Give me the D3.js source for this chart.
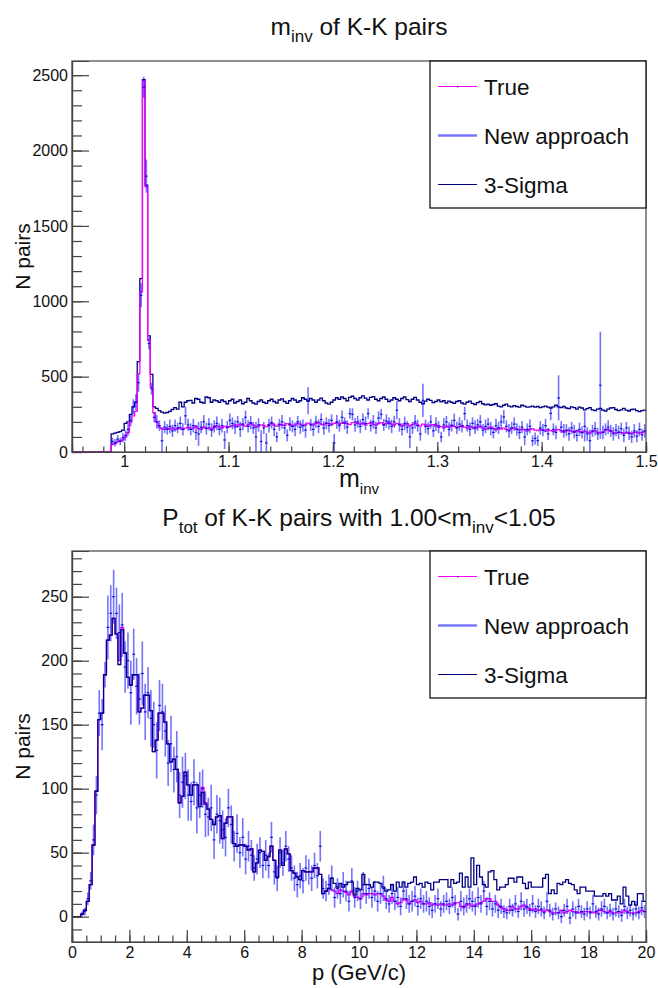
<!DOCTYPE html>
<html>
<head>
<meta charset="utf-8">
<script src="https://d3js.org/d3.v7.min.js"></script>
<style>
  body { margin: 0; background: white; }
  text { font-family: "Liberation Sans", Arial, Helvetica, sans-serif; fill: #111; }
</style>
</head>
<body>
<div id="container"></div>
<script>
// ---------- top panel: m_inv, 220 bins of 0.0025 from 0.95 ----------
let topBinStart = 0.95;
let topBinWidth = 0.0025;

let topTrue = [
  0,0,0,0,0,0,0,0,0,0,0,0,0,0,0,
  50,55,70,75,80,100,130,200,240,270,520,1060,2460,1760,740,430,260,200,165,155,
  150,158,152,160,148,155,162,150,158,165,150,160,170,155,150,165,158,160,150,162,175,165,160,170,162,
  168,175,180,170,185,178,172,180,190,178,165,172,180,175,168,182,190,178,172,185,
  180,176,188,180,172,178,190,185,175,180,192,185,178,190,196,185,180,192,188,182,
  190,195,185,192,200,188,182,195,198,190,185,192,180,188,195,185,178,190,195,182,
  188,200,185,178,190,185,172,180,188,175,182,190,178,172,185,180,170,178,182,172,
  175,168,160,172,165,178,170,162,168,175,165,158,170,162,155,165,172,160,152,158,
  165,155,148,160,152,158,150,145,155,160,150,145,152,148,140,150,155,145,142,150,
  145,138,148,142,135,145,150,140,132,140,145,138,130,142,135,128,138,132,125,135,
  140,130,125,132,145,150,138,130,125,132,128,122,130,125,120,128,132,125,130,135
];

let topSigma = [
  0,0,0,0,0,0,0,0,0,0,0,0,0,0,0,
  120,125,130,135,145,190,200,250,300,330,600,1150,2470,1770,770,515,300,290,275,265,
  258,262,270,282,295,285,330,300,330,340,342,325,355,350,330,325,365,360,330,345,340,330,345,335,320,
  340,350,325,335,345,320,330,355,340,325,318,335,345,330,322,340,350,335,325,345,
  352,335,322,340,355,345,330,340,360,350,338,355,345,330,345,358,340,325,318,330,
  345,360,350,365,355,340,362,370,355,345,360,372,358,345,362,368,350,340,355,365,
  350,335,345,360,350,340,355,365,348,335,350,362,345,330,320,338,350,342,328,335,
  345,332,340,325,338,330,322,335,340,325,318,330,338,322,315,328,335,320,312,318,
  310,315,320,305,300,310,318,305,300,308,302,298,310,305,298,300,305,298,302,295,
  300,305,298,292,300,310,300,295,302,292,288,300,295,285,298,292,280,288,295,280,
  275,285,290,278,272,285,292,295,282,275,280,290,278,272,282,285,275,268,275,278
];

// new approach: bin content and error, null where nothing is drawn
let topNew = [
  null,null,null,null,null,null,null,null,null,null,null,null,null,null,null,
  70,62,85,70,95,110,150,210,300,330,460,1040,2420,1830,720,420,230,200,175,75,
  165,150,170,140,175,160,190,150,240,180,150,175,130,120,165,200,155,185,145,170,190,150,175,80,165,
  210,190,165,200,150,185,230,170,195,160,100,180,70,160,60,175,195,150,100,180,
  200,160,110,185,170,150,200,165,175,145,340,180,150,200,170,215,160,190,175,210,
  60,200,175,230,190,165,255,250,180,200,170,215,190,255,175,200,160,225,250,180,
  205,190,170,200,277,180,150,190,165,100,160,200,175,120,343,170,155,200,140,185,
  165,100,180,200,150,175,210,160,185,170,255,175,150,190,165,180,200,145,170,185,
  155,130,175,160,200,233,170,140,160,185,150,130,165,100,150,170,75,90,75,160,
  145,175,120,256,150,130,359,165,140,145,120,160,135,110,150,130,170,120,75,140,
  155,120,443,130,150,165,140,120,145,130,155,110,160,125,100,140,105,150,115,140
];
let topNewErr = [
  0,0,0,0,0,0,0,0,0,0,0,0,0,0,0,
  25,25,28,25,30,35,40,40,50,55,60,80,70,110,40,40,35,45,35,90,
  40,35,45,40,40,35,45,40,60,40,40,45,50,80,40,45,40,40,45,40,45,40,45,60,40,
  45,40,45,40,50,40,45,40,45,40,100,45,75,40,65,45,40,45,35,40,
  45,40,40,45,40,45,40,45,40,50,90,40,45,40,45,40,45,40,45,40,
  60,45,40,45,40,45,35,40,45,40,45,40,45,35,40,45,40,45,35,40,
  45,40,45,40,60,45,40,45,40,75,40,45,40,45,110,45,40,45,40,45,
  40,35,45,40,45,40,45,40,45,40,45,40,45,40,45,40,45,40,45,40,
  45,40,45,40,45,45,40,45,40,45,40,45,40,55,40,45,35,40,35,45,
  40,45,40,45,40,45,150,40,45,40,45,40,45,40,45,40,100,45,75,40,
  45,40,355,45,40,45,40,45,40,45,40,45,40,45,40,45,40,45,40,45
];

// ---------- bottom panel: p, 200 bins of 0.1 GeV/c ----------
let botBinStart = 0;
let botBinWidth = 0.1;

let botTrue = [
  0,0,0,2,5,12,25,56,98,154,159,189,216,220,233,221,200,226,206,187,
  181,189,189,160,163,173,173,161,129,138,159,159,152,135,121,123,115,89,94,113,
  103,95,103,103,88,101,89,84,76,72,78,79,61,73,78,78,57,55,56,56,
  55,52,53,35,42,52,51,44,47,55,44,31,52,40,53,49,36,34,31,29,
  36,35,35,35,38,38,33,18,20,22,21,20,18,21,20,19,17,20,16,15,
  14,18,17,18,18,17,18,18,16,13,12,15,12,10,11,14,13,10,12,13,
  11,12,10,10,11,9,10,9,10,9,9,10,9,11,11,8,7,9,10,8,
  9,10,11,12,14,14,12,12,9,7,6,5,5,8,6,6,8,9,7,6,
  5,6,5,5,4,5,4,3,3,3,5,3,4,5,4,4,3,3,4,4,
  4,3,3,5,5,4,3,4,3,3,4,3,5,4,3,3,3,4,5,4
];

let botSigma = [
  0,0,0,2,5,12,25,56,98,154,159,189,216,220,233,221,197,224,206,187,
  181,189,189,160,163,173,173,161,129,138,159,159,152,135,121,123,115,89,94,113,
  103,95,103,103,86,97,88,84,76,72,78,79,61,73,78,78,57,55,56,56,
  55,52,53,35,42,52,51,44,47,55,44,31,52,40,53,49,36,34,31,29,
  36,35,35,35,38,38,33,18,20,22,30,26,23,26,23,25,27,27,17,22,
  21,33,25,25,23,27,27,26,23,20,21,25,20,27,23,27,23,26,27,31,
  25,26,23,27,26,21,27,27,29,29,29,23,29,26,27,34,23,31,23,46,
  25,40,31,25,23,35,36,29,21,23,23,25,30,30,27,31,31,26,22,27,
  23,23,23,23,30,33,18,21,18,26,25,27,29,26,25,21,18,23,23,20,
  20,20,16,16,16,18,16,18,13,13,16,10,23,16,9,12,9,18,18,12
];

let botNew = [
  null,null,null,2,4,14,28,60,95,159,150,189,226,237,250,237,222,228,195,200,
  175,205,180,170,190,160,175,155,150,130,165,160,145,120,135,115,125,95,105,110,
  95,90,105,85,95,100,80,78,85,60,80,75,68,62,85,72,55,65,50,62,
  45,55,48,38,45,50,40,48,40,62,35,30,50,42,55,45,38,30,25,32,
  28,38,35,30,40,32,55,22,20,25,30,15,22,18,25,20,12,28,15,20,
  14,25,18,22,15,20,12,18,22,14,10,18,12,15,8,20,14,10,12,16,
  8,14,10,12,8,5,10,14,6,10,12,8,15,10,2,12,8,10,14,12,
  8,15,10,20,8,12,6,10,5,8,4,3,8,5,10,4,12,6,8,5,
  10,4,8,6,3,12,5,2,6,3,0,5,8,-1,6,3,8,4,2,6,
  3,10,4,2,6,8,3,5,2,6,4,1,8,3,5,2,6,3,7,4
];
let botNewErr = [
  0,0,0,2,3,5,7,12,15,18,20,10,25,22,21,20,22,25,20,22,
  25,20,22,20,25,22,20,22,18,22,20,22,20,18,22,18,20,18,20,18,
  20,15,18,20,18,15,18,15,18,15,15,18,15,15,15,15,12,15,12,15,
  12,12,12,10,12,12,10,12,10,12,10,10,12,10,12,10,10,10,10,10,
  10,10,10,10,10,10,12,8,8,8,10,8,8,8,10,8,8,10,8,8,
  8,10,8,8,8,8,8,8,10,8,7,8,7,8,7,8,8,7,8,8,
  7,8,7,8,7,6,7,8,6,7,7,6,8,7,5,8,7,7,8,8,
  7,8,7,8,7,7,6,7,6,6,5,5,6,5,7,5,7,6,6,5,
  7,5,6,6,5,7,5,5,5,5,5,5,6,5,6,5,6,5,5,6,
  5,7,5,5,6,6,5,5,5,6,5,5,6,5,5,5,6,5,6,5
];

let legendNames = ["True", "New approach", "3-Sigma"];

let w = 658;
let h = 988;
let colTrue = "#ff00ff";
let colNew = "#0000ff";
let colSigma = "#000080";

let viz = d3.select("#container")
  .append("svg")
    .attr("width", w)
    .attr("height", h)
;

// one ROOT-like pad
function drawPanel(cfg){
  let g = viz.append("g");
  let xScale = d3.scaleLinear().domain(cfg.xDomain).range([cfg.left, cfg.right]);
  let yScale = d3.scaleLinear().domain(cfg.yDomain).range([cfg.bottom, cfg.top]);

  let clipId = "clip" + cfg.name;
  g.append("clipPath").attr("id", clipId)
    .append("rect")
      .attr("x", cfg.left).attr("y", cfg.top)
      .attr("width", cfg.right - cfg.left).attr("height", cfg.bottom - cfg.top);

  let plot = g.append("g").attr("clip-path", "url(#" + clipId + ")");

  function edge(i){ return cfg.binStart + i * cfg.binWidth; }

  // step histogram
  function stepPath(values){
    let pts = values.map(function(v, i){ return [edge(i), v]; });
    pts.push([edge(values.length), values[values.length - 1]]);
    let lineMaker = d3.line()
      .x(function(d){ return xScale(d[0]); })
      .y(function(d){ return yScale(d[1]); })
      .curve(d3.curveStepAfter);
    return lineMaker(pts);
  }

  function drawHist(values, col){
    plot.append("path")
      .attr("d", stepPath(values))
      .attr("fill", "none")
      .attr("stroke", col)
      .attr("stroke-width", 1.3);
  }

  // new approach points with errors
  function drawPoints(){
    let pts = [];
    cfg.newVals.forEach(function(v, i){
      if (v !== null) pts.push({ i: i, v: v, e: cfg.newErr[i] });
    });
    let pg = plot.append("g");
    pg.selectAll(".ebar").data(pts).enter().append("line")
      .attr("x1", function(d){ return xScale(edge(d.i) + cfg.binWidth / 2); })
      .attr("x2", function(d){ return xScale(edge(d.i) + cfg.binWidth / 2); })
      .attr("y1", function(d){ return yScale(d.v - d.e); })
      .attr("y2", function(d){ return yScale(d.v + d.e); })
      .attr("stroke", colNew)
      .attr("stroke-opacity", 0.55)
      .attr("stroke-width", 1.6);
    pg.selectAll(".hbar").data(pts).enter().append("line")
      .attr("x1", function(d){ return xScale(edge(d.i)); })
      .attr("x2", function(d){ return xScale(edge(d.i + 1)); })
      .attr("y1", function(d){ return yScale(d.v); })
      .attr("y2", function(d){ return yScale(d.v); })
      .attr("stroke", "#0000d0")
      .attr("stroke-opacity", 0.9)
      .attr("stroke-width", 1.2);
  }

  // drawing order differs a bit between the two pads
  if (cfg.sigmaFirst) {
    drawHist(cfg.sigmaVals, colSigma);
    drawHist(cfg.trueVals, colTrue);
    drawPoints();
  } else {
    drawHist(cfg.trueVals, colTrue);
    drawPoints();
    drawHist(cfg.sigmaVals, colSigma);
  }

  // frame
  g.append("rect")
    .attr("x", cfg.left).attr("y", cfg.top)
    .attr("width", cfg.right - cfg.left).attr("height", cfg.bottom - cfg.top)
    .attr("fill", "none").attr("stroke", "#444").attr("stroke-width", 1.2);

  // axes, ticks point into the frame
  let yMajor = d3.axisLeft(yScale).tickValues(cfg.yMajor).tickSize(-17).tickPadding(4)
    .tickFormat(d3.format("d"));
  let yMinor = d3.axisLeft(yScale).tickValues(cfg.yMinor).tickSize(-10).tickFormat("");
  let xMajor = d3.axisBottom(xScale).tickValues(cfg.xMajor).tickSize(-cfg.xTick).tickPadding(cfg.xPad)
    .tickFormat(cfg.xFormat);
  let xMinor = d3.axisBottom(xScale).tickValues(cfg.xMinor).tickSize(-cfg.xTick * 0.55).tickFormat("");

  [yMajor, yMinor].forEach(function(ax){
    g.append("g").attr("transform", "translate(" + cfg.left + ",0)").call(ax);
  });
  [xMajor, xMinor].forEach(function(ax){
    g.append("g").attr("transform", "translate(0," + cfg.bottom + ")").call(ax);
  });
  g.selectAll(".domain").attr("stroke", "#444").attr("stroke-width", 1.2);
  g.selectAll(".tick line").attr("stroke", "#444").attr("stroke-width", 1.2);
  g.selectAll(".tick text").attr("font-size", 16).attr("fill", "#111")
    .style("font-family", "'Liberation Sans', Arial, sans-serif");

  // legend
  let lg = g.append("g");
  lg.append("rect")
    .attr("x", cfg.legX).attr("y", cfg.top)
    .attr("width", cfg.right - cfg.legX).attr("height", cfg.legH)
    .attr("fill", "white").attr("stroke", "black").attr("stroke-width", 1.2);
  let legCols = [colTrue, "#7878ff", colSigma];
  let legWidths = [1.2, 2.4, 1.2];
  legendNames.forEach(function(name, k){
    let yy = cfg.top + cfg.legH * (k + 0.5) / 3 + 1;
    lg.append("line")
      .attr("x1", cfg.legX + 8).attr("x2", cfg.legX + 47)
      .attr("y1", yy).attr("y2", yy)
      .attr("stroke", legCols[k]).attr("stroke-width", legWidths[k]);
    if (k === 0) {
      lg.append("rect").attr("x", cfg.legX + 27).attr("y", yy - 0.6)
        .attr("width", 1.4).attr("height", 1.4).attr("fill", "#222");
    }
    lg.append("text")
      .attr("x", cfg.legX + 54).attr("y", yy + 8)
      .attr("font-size", 22.5)
      .text(name);
  });

  // y title
  g.append("text")
    .attr("transform", "translate(30," + ((cfg.top + cfg.bottom) / 2) + ") rotate(-90)")
    .attr("text-anchor", "middle")
    .attr("font-size", 21)
    .text("N pairs");

  return { x: xScale, y: yScale, g: g };
}

// title helper for text with subscripts: parts = [[text, isSub], ...]
function titleText(x, y, size, subSize, parts){
  let t = viz.append("text")
    .attr("x", x).attr("y", y)
    .attr("text-anchor", "middle")
    .attr("font-size", size);
  let down = false;
  parts.forEach(function(p){
    let s = t.append("tspan").text(p[0]);
    if (p[1]) {
      s.attr("font-size", subSize);
      if (!down) { s.attr("dy", size * 0.28); down = true; }
    } else if (down) {
      s.attr("dy", -size * 0.28); down = false;
    }
  });
  return t;
}

let topYMajor = [0, 500, 1000, 1500, 2000, 2500];
let topYMinor = d3.range(0, 2600, 100);
let topXMajor = [1, 1.1, 1.2, 1.3, 1.4, 1.5];
let topXMinor = d3.range(0, 28).map(function(i){ return +(0.96 + i * 0.02).toFixed(2); });

drawPanel({
  name: "top",
  left: 72, right: 646, top: 61, bottom: 452,
  xDomain: [0.95, 1.5], yDomain: [0, 2594],
  binStart: topBinStart, binWidth: topBinWidth,
  trueVals: topTrue, sigmaVals: topSigma, newVals: topNew, newErr: topNewErr,
  yMajor: topYMajor, yMinor: topYMinor, xMajor: topXMajor, xMinor: topXMinor,
  xTick: 10, xPad: 4, sigmaFirst: true,
  xFormat: function(d){ return d === 1 ? "1" : d3.format(".1f")(d); },
  legX: 430, legH: 147
});

let botYMajor = [0, 50, 100, 150, 200, 250];
let botYMinor = d3.range(-10, 290, 10);
let botXMajor = d3.range(0, 21, 2);
let botXMinor = d3.range(0, 40).map(function(i){ return i * 0.5; });

drawPanel({
  name: "bot",
  left: 72, right: 646, top: 551, bottom: 942,
  xDomain: [0, 20], yDomain: [-19.8, 285.7],
  binStart: botBinStart, binWidth: botBinWidth,
  trueVals: botTrue, sigmaVals: botSigma, newVals: botNew, newErr: botNewErr,
  yMajor: botYMajor, yMinor: botYMinor, xMajor: botXMajor, xMinor: botXMinor,
  xTick: 12, xPad: 5, sigmaFirst: false,
  xFormat: d3.format("d"),
  legX: 430, legH: 147
});

// titles
titleText(359, 35, 24.5, 17, [["m", false], ["inv", true], [" of K-K pairs", false]]);
titleText(359, 526, 24.5, 17, [["P", false], ["tot", true], [" of K-K pairs with 1.00<m", false], ["inv", true], ["<1.05", false]]);

// x axis titles
titleText(359, 487, 25, 15, [["m", false], ["inv", true]]);
titleText(359, 980, 22, 15, [["p (GeV/c)", false]]);
</script>
</body>
</html>
